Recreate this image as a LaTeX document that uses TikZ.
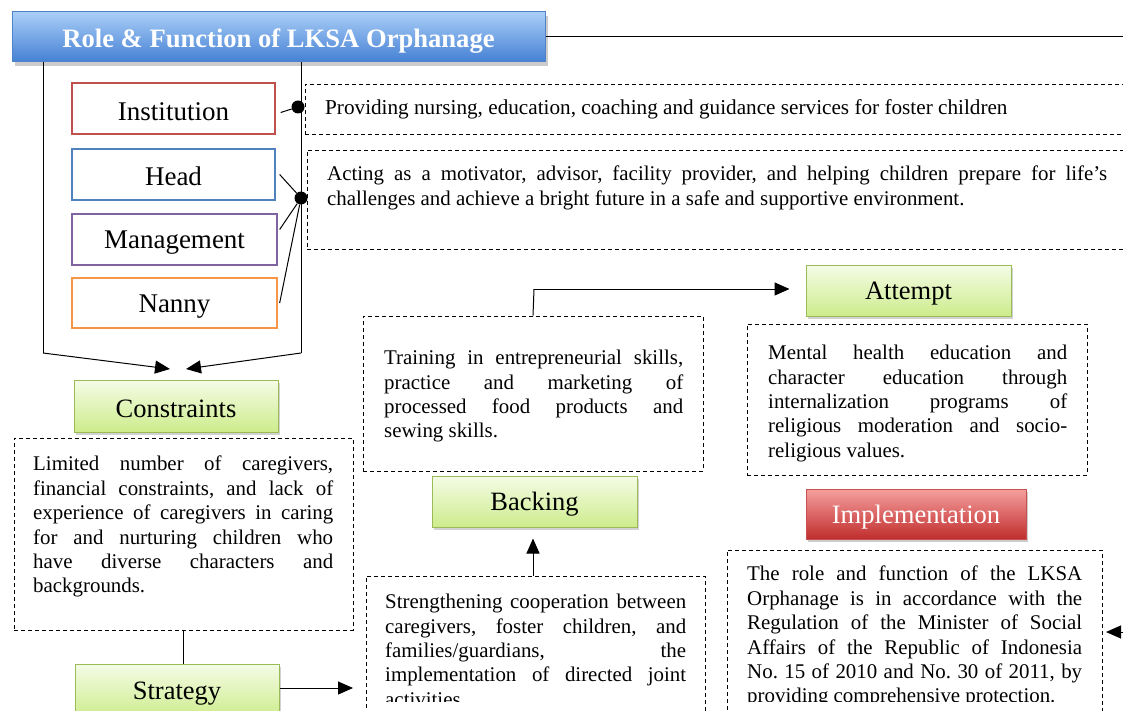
\documentclass[tikz,border=0pt]{standalone}
\usepackage{fontspec}
\setmainfont{Liberation Serif}
\usetikzlibrary{arrows.meta,shadows,calc}
\definecolor{gborder}{RGB}{155,187,89}
\definecolor{gtop}{RGB}{244,252,230}
\definecolor{gbot}{RGB}{205,236,140}
\definecolor{btop}{RGB}{170,206,247}
\definecolor{bbot}{RGB}{68,128,212}
\definecolor{bborder}{RGB}{80,130,200}
\definecolor{rtop}{RGB}{245,160,158}
\definecolor{rbot}{RGB}{192,45,45}
\definecolor{rborder}{RGB}{200,80,80}
\definecolor{cred}{RGB}{192,80,77}
\definecolor{cblue}{RGB}{79,129,189}
\definecolor{cpurple}{RGB}{128,100,162}
\definecolor{corange}{RGB}{247,150,70}
\newcommand\lowr[2][3pt]{\raisebox{-#1}[\height][\depth]{#2}}
\newcommand\txtsetup{\spaceskip=.25em plus .6em minus .1em\relax\hyphenpenalty=10000\relax}
\frenchspacing
\begin{document}
\begin{tikzpicture}[x=1pt,y=-1pt,
  rolebox/.style={draw=#1,line width=1.3pt,fill=white,inner sep=0pt,
    font=\fontsize{27}{30}\selectfont},
  gbox/.style={draw=gborder,line width=1pt,top color=gtop,bottom color=gbot,
    drop shadow={opacity=0.35,shadow xshift=2pt,shadow yshift=-3pt},inner sep=0pt,
    font=\fontsize{26.5}{30}\selectfont},
  dbox/.style={draw,dash pattern=on 4pt off 3pt,line width=0.8pt,inner sep=0pt},
  txt/.style={anchor=north west,inner sep=0pt,text width=#1,align=justify,
    font=\fontsize{20.9}{24.4}\selectfont},
  conn/.style={line width=1pt},
  arr/.style={line width=1pt,-{Triangle[length=15pt,width=13pt]}},
  dot/.style={circle,fill=black,inner sep=0pt,minimum size=13pt}
]
\clip (0,0) rectangle (1123,711);
\fill[white] (0,0) rectangle (1123,711);

% title
\coordinate (rightend) at (1130,38);
\node[draw=bborder,line width=1pt,top color=btop,bottom color=bbot,
  drop shadow={opacity=0.4,shadow xshift=3pt,shadow yshift=-4pt},
  minimum width=533pt,minimum height=50pt,inner sep=0pt,text=white,
  font=\bfseries\fontsize{26.6}{30}\selectfont] (title) at (278.5,37)
  {\lowr[4pt]{Role \& Function of LKSA Orphanage}};
\draw[conn] (title.east) -- (title.east -| rightend);

% role boxes
\node[rolebox=cred,minimum width=203pt,minimum height=51pt] (inst) at (173.5,108.5) {\lowr{Institution}};
\node[rolebox=cblue,minimum width=203pt,minimum height=51pt] (head) at (173.5,174.5) {\lowr[2pt]{Head}};
\node[rolebox=cpurple,minimum width=205pt,minimum height=51pt] (mgmt) at (174.5,239.5) {\lowr[3.5pt]{Management}};
\node[rolebox=corange,minimum width=205pt,minimum height=50pt] (nanny) at (174.5,303) {\lowr[4pt]{Nanny}};

% dashed text boxes top right
\node[dbox,minimum width=830pt,minimum height=50pt] (provbox) at (720,109) {};
\node[anchor=west,inner sep=0pt,font=\fontsize{21.2}{24.4}\selectfont] (provT) at (325,109.5)
  {Providing nursing, education, coaching and guidance services for foster children};
\node[dbox,minimum width=828pt,minimum height=99pt] (actbox) at (721,199.5) {};
\node[txt=780pt] (actT) at (327,166) {\txtsetup Acting as a motivator, advisor, facility provider, and helping children prepare for life's\linebreak challenges and achieve a bright future in a safe and supportive environment.};

% dots
\node[dot] (dot1) at (298,107) {};
\node[dot] (dot2) at (301,198) {};
\draw[conn] (inst.east) ++(5pt,-4pt) coordinate (ie) -- (dot1);
\draw[conn] (head.east) ++(4pt,0) -- (dot2);
\draw[conn] (mgmt.east) ++(2pt,10pt) -- (dot2);
\draw[conn] (nanny.east) ++(2pt,0) -- (dot2);

% constraints
\node[gbox,minimum width=204pt,minimum height=52pt] (cons) at (176,406) {\lowr{Constraints}};
\coordinate (L1) at (43,353);
\coordinate (R1) at (301,353);
\coordinate (tipL) at (170,369);
\coordinate (tipR) at (186,369);
\draw[conn] (title.south -| L1) -- (L1);
\draw[arr] (L1) -- (tipL);
\draw[conn] (title.south -| R1) -- (R1);
\draw[arr] (R1) -- (tipR);

\node[dbox,minimum width=339pt,minimum height=192pt] (consbox) at (183.5,534) {};
\node[txt=300pt] (consT) at (33,456) {\txtsetup Limited number of caregivers,\linebreak financial constraints, and lack of\linebreak experience of caregivers in caring\linebreak for and nurturing children who\linebreak have diverse characters and\linebreak backgrounds.};

% strategy
\node[gbox,minimum width=204pt,minimum height=54pt] (strategy) at (177,691) {\lowr{Strategy}};
\draw[conn] (consbox.south) -- (consbox.south |- strategy.north);
\node[dbox,minimum width=339pt,minimum height=174pt] (stratbox) at (535.5,663) {};
\coordinate (stratTip) at (353,688);
\draw[arr] (strategy.east |- stratTip) -- (stratTip);

% backing
\node[gbox,minimum width=205pt,minimum height=51pt] (backing) at (534.5,501.5) {\lowr{Backing}};
\draw[arr,shorten >=11pt] (stratbox.north -| 533,0) -- (backing.south -| 533,0);

% training
\node[dbox,minimum width=340pt,minimum height=155pt] (trainbox) at (533,393.5) {};
\node[txt=299pt] (trainT) at (384,350) {\txtsetup Training in entrepreneurial skills,\linebreak practice and marketing of\linebreak processed food products and\linebreak sewing skills.};

% attempt
\node[gbox,minimum width=205pt,minimum height=51pt] (attempt) at (908.5,290.5) {\lowr[3.5pt]{Attempt}};
\coordinate (bend) at (534,289);
\draw[conn] (trainbox.north) -- (bend);
\draw[arr,shorten >=16pt] (bend) -- (bend -| attempt.west);
\node[dbox,minimum width=340pt,minimum height=151pt] (attbox) at (917,399.5) {};
\node[txt=299pt] (attT) at (768,345) {\txtsetup Mental health education and\linebreak character education through\linebreak internalization programs of\linebreak religious moderation and socio-\linebreak religious values.};

% implementation
\node[draw=rborder,line width=1pt,top color=rtop,bottom color=rbot,
  drop shadow={opacity=0.4,shadow xshift=2pt,shadow yshift=-3pt},
  minimum width=220pt,minimum height=50pt,inner sep=0pt,text=white,
  font=\fontsize{26.6}{30}\selectfont] (impl) at (916,514) {\lowr[3.5pt]{Implementation}};
\node[dbox,minimum width=375pt,minimum height=200pt] (implbox) at (914.5,650) {};
\coordinate (implTip) at (1106,632);
\coordinate (rightIn) at (1130,632);
\draw[arr] (rightIn) -- (implTip);

% clipped texts at bottom
\begin{scope}
\clip (0,0) rectangle (1123,701);
\node[txt=301pt] (stratT) at (385,594) {\txtsetup Strengthening cooperation between\linebreak caregivers, foster children, and\linebreak families/guardians, the\linebreak implementation of directed joint\linebreak activities.};
\node[txt=335pt] (implT) at (747,566) {\txtsetup The role and function of the LKSA\linebreak Orphanage is in accordance with the\linebreak Regulation of the Minister of Social\linebreak Affairs of the Republic of Indonesia\linebreak No. 15 of 2010 and No. 30 of 2011, by\linebreak providing comprehensive protection.};
\end{scope}
\end{tikzpicture}
\end{document}
